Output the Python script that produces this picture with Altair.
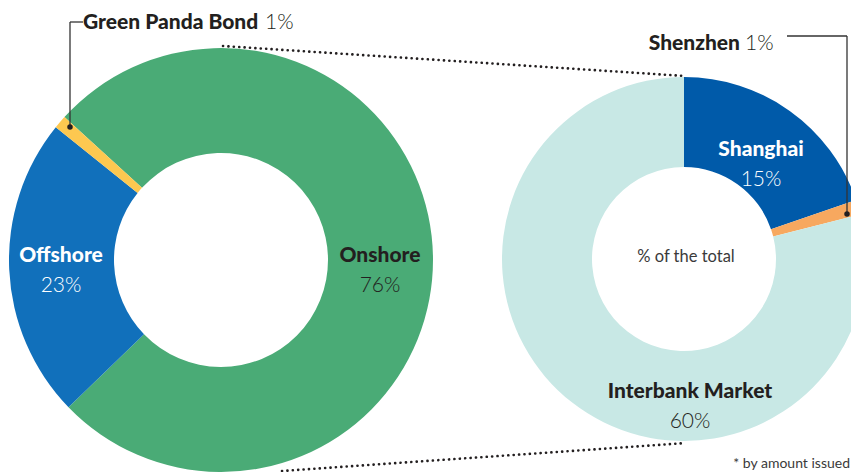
import math
import altair as alt
import pandas as pd

# ---------------- data ----------------
left_categories = ["Onshore", "Offshore", "Green Panda Bond"]
left_values = [76, 23, 1]
right_categories = ["Shanghai", "Shenzhen", "Interbank Market"]
right_values = [15, 1, 60]

left_colors = ["#4aab76", "#1170bb", "#fdc850"]
right_colors = ["#005aa9", "#f7a85f", "#c8e8e5"]

DARK = "#231f20"
FONT = "Lato"
M = 8  # page margin -> chart coordinates


def c(v):
    return v - M


left_df = pd.DataFrame({"category": left_categories, "value": left_values,
                        "color": left_colors, "order": [0, 1, 2]})
right_df = pd.DataFrame({"category": right_categories, "value": right_values,
                         "color": right_colors, "order": [0, 1, 2]})

# ---------------- donuts ----------------
L_CX, L_CY, L_R, L_R2 = c(221), c(260), 212, 107
R_CX, R_CY, R_R, R_R2 = c(684), c(259), 182, 92
start = math.radians(312.4)

left_arc = alt.Chart(left_df).mark_arc(
    x=L_CX, y=L_CY, radius=L_R, radius2=L_R2, strokeWidth=0
).encode(
    theta=alt.Theta("value:Q", stack=True,
                    scale=alt.Scale(domain=[0, sum(left_values)],
                                    range=[start, start + 2 * math.pi])),
    order=alt.Order("order:Q"),
    color=alt.Color("color:N", scale=None),
)

right_arc = alt.Chart(right_df).mark_arc(
    x=R_CX, y=R_CY, radius=R_R, radius2=R_R2, strokeWidth=0
).encode(
    theta=alt.Theta("value:Q", stack=True,
                    scale=alt.Scale(domain=[0, sum(right_values)],
                                    range=[0, 2 * math.pi])),
    order=alt.Order("order:Q"),
    color=alt.Color("color:N", scale=None),
)

# ---------------- annotation lines ----------------
dotted_df = pd.DataFrame({
    "x": [c(223), c(282)], "y": [c(46), c(471)],
    "x2": [c(685), c(686)], "y2": [c(76), c(443)],
})
dotted = alt.Chart(dotted_df).mark_rule(
    color=DARK, strokeWidth=2.6, strokeDash=[0.1, 5.3], strokeCap="round"
).encode(
    x=alt.X("x:Q", scale=None), y=alt.Y("y:Q", scale=None),
    x2="x2:Q", y2="y2:Q",
)

leader_df = pd.DataFrame({
    "x": [c(70), c(70), c(847), c(787)],
    "y": [c(127), c(22), c(214), c(36)],
    "x2": [c(70), c(83), c(847), c(847)],
    "y2": [c(22), c(22), c(36), c(36)],
})
leaders = alt.Chart(leader_df).mark_rule(color="#333333", strokeWidth=1.3).encode(
    x=alt.X("x:Q", scale=None), y=alt.Y("y:Q", scale=None),
    x2="x2:Q", y2="y2:Q",
)

dot_df = pd.DataFrame({"x": [c(70), c(847)], "y": [c(127), c(214)]})
dots = alt.Chart(dot_df).mark_circle(color=DARK, opacity=1, size=30).encode(
    x=alt.X("x:Q", scale=None), y=alt.Y("y:Q", scale=None),
)

# ---------------- labels ----------------
inside_df = pd.DataFrame({
    "name": ["Onshore", "Offshore", "Shanghai", "Interbank Market"],
    "pct": [f"{left_values[0]}%", f"{left_values[1]}%",
            f"{right_values[0]}%", f"{right_values[2]}%"],
    "x": [c(380), c(61), c(761), c(690)],
    "y": [c(262), c(262), c(156), c(398)],
    "y_pct": [c(292), c(292), c(186), c(428)],
    "tcolor": [DARK, "#ffffff", "#ffffff", DARK],
})

names = alt.Chart(inside_df).mark_text(
    font=FONT, fontSize=21, fontWeight=900, align="center", baseline="alphabetic"
).encode(
    x=alt.X("x:Q", scale=None), y=alt.Y("y:Q", scale=None),
    text="name:N", color=alt.Color("tcolor:N", scale=None),
)
pcts = alt.Chart(inside_df).mark_text(
    font=FONT, fontSize=21, fontWeight=300, align="center", baseline="alphabetic"
).encode(
    x=alt.X("x:Q", scale=None), y=alt.Y("y_pct:Q", scale=None),
    text="pct:N", color=alt.Color("tcolor:N", scale=None),
)

out_bold_df = pd.DataFrame({
    "t": [left_categories[2], right_categories[1]],
    "x": [c(83), c(740)], "y": [c(29), c(50)],
})
out_bold_l = alt.Chart(out_bold_df.iloc[[0]]).mark_text(
    font=FONT, fontSize=21, fontWeight=900, align="left", baseline="alphabetic", color=DARK
).encode(x=alt.X("x:Q", scale=None), y=alt.Y("y:Q", scale=None), text="t:N")
out_bold_r = alt.Chart(out_bold_df.iloc[[1]]).mark_text(
    font=FONT, fontSize=21, fontWeight=900, align="right", baseline="alphabetic", color=DARK
).encode(x=alt.X("x:Q", scale=None), y=alt.Y("y:Q", scale=None), text="t:N")

out_pct_df = pd.DataFrame({
    "t": [f"{left_values[2]}%", f"{right_values[1]}%"],
    "x": [c(265), c(745)], "y": [c(29), c(50)],
})
out_pct = alt.Chart(out_pct_df).mark_text(
    font=FONT, fontSize=21, fontWeight=300, align="left", baseline="alphabetic", color=DARK
).encode(x=alt.X("x:Q", scale=None), y=alt.Y("y:Q", scale=None), text="t:N")

misc_df = pd.DataFrame({"t": ["% of the total"], "x": [c(686)], "y": [c(262)]})
misc = alt.Chart(misc_df).mark_text(
    font=FONT, fontSize=16.5, align="center", baseline="alphabetic", color="#3a3a3a"
).encode(x=alt.X("x:Q", scale=None), y=alt.Y("y:Q", scale=None), text="t:N")

note_df = pd.DataFrame({"t": ["* by amount issued"], "x": [c(850)], "y": [c(468)]})
note = alt.Chart(note_df).mark_text(
    font=FONT, fontSize=14, align="right", baseline="alphabetic", color="#3a3a3a"
).encode(x=alt.X("x:Q", scale=None), y=alt.Y("y:Q", scale=None), text="t:N")

chart = alt.layer(
    left_arc, right_arc, dotted, leaders, dots,
    names, pcts, out_bold_l, out_bold_r, out_pct, misc, note
).resolve_scale(
    theta="independent"
).properties(
    width=843, height=464, padding=0, autosize="none", background="#ffffff"
).configure_view(stroke=None)

chart.save("out.html", embed_options={"renderer": "svg", "actions": False})
